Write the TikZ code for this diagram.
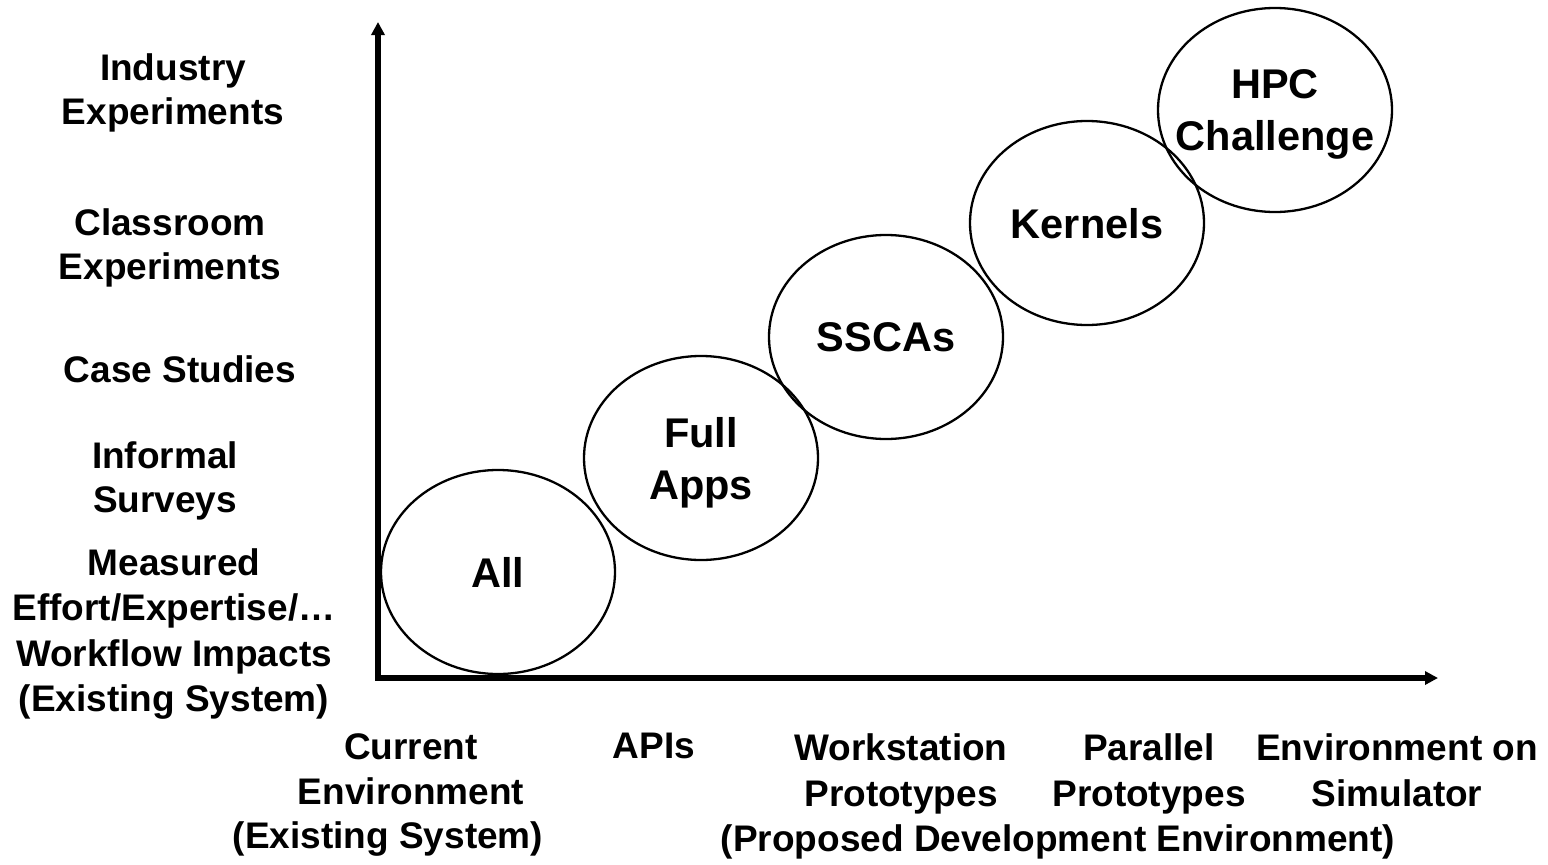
\documentclass[tikz,border=0pt]{standalone}
\usepackage{fontspec}
\setmainfont{Liberation Sans}
\usetikzlibrary{arrows.meta,shapes.geometric}

\tikzset{
  axislabel/.style={anchor=north, inner sep=0pt, align=center,
    font=\fontsize{37}{44.5}\selectfont\bfseries},
  % negative inner sep keeps the label from inflating the fixed-size ellipse
  oval/.style={draw, ellipse, line width=2.3pt, inner xsep=-70pt, inner ysep=-35pt,
    align=center, minimum width=234pt, minimum height=204pt, text depth=0pt,
    font=\fontsize{41.5}{52}\selectfont\bfseries},
  axisline/.style={line width=5.5pt, line join=miter,
    {Triangle[length=13pt,width=13pt]}-{Triangle[length=13pt,width=13pt]}}
}

\begin{document}
\begin{tikzpicture}[x=1pt,y=-1pt]
  \useasboundingbox (0,0) rectangle (1548,865);

  % axes
  \coordinate (ytip) at (378,22);
  \coordinate (origin) at (378,678);
  \coordinate (xtip) at (1438,678);
  \draw[axisline] (ytip) -- (origin) -- (xtip);

  % vertical axis labels
  \node[axislabel, font=\fontsize{37}{44}\selectfont\bfseries] (yind) at (173,53) {Industry\\Experiments};
  \node[axislabel] (ycls) at (170,208) {Classroom\\Experiments};
  \node[axislabel] (ycase) at (180,355) {Case Studies};
  \node[axislabel] (yinf) at (165,441) {Informal\\Surveys};
  \node[axislabel, font=\fontsize{37}{45.5}\selectfont\bfseries] (ymeas) at (174,548)
    {Measured\\Effort/Expertise/…\\Workflow Impacts\\(Existing System)};

  % horizontal axis labels
  \node[axislabel, font=\fontsize{37}{45}\selectfont\bfseries] (xcur) at (411,733) {Current\\Environment};
  \node[axislabel] (xcursys) at (388,821) {(Existing System)};
  \node[axislabel] (xapi) at (654,733) {APIs};
  \node[axislabel, font=\fontsize{37}{46}\selectfont\bfseries] (xwork) at (901,733) {Workstation\\Prototypes};
  \node[axislabel, font=\fontsize{37}{46}\selectfont\bfseries] (xpar) at (1149,733) {Parallel\\Prototypes};
  \node[axislabel, font=\fontsize{37}{46}\selectfont\bfseries] (xsim) at (1397,733) {Environment on\\Simulator};
  \node[axislabel] (xprop) at (1058,824) {(Proposed Development Environment)};

  % benchmark ovals
  \node[oval] (all)     at (498,572)  {All};
  \node[oval] (fullapp) at (701,458)  {Full\\Apps};
  \node[oval] (sscas)   at (886,337)  {SSCAs};
  \node[oval] (kernels) at (1087,223) {Kernels};
  \node[oval] (hpc)     at (1275,110) {HPC\\Challenge};
\end{tikzpicture}
\end{document}
